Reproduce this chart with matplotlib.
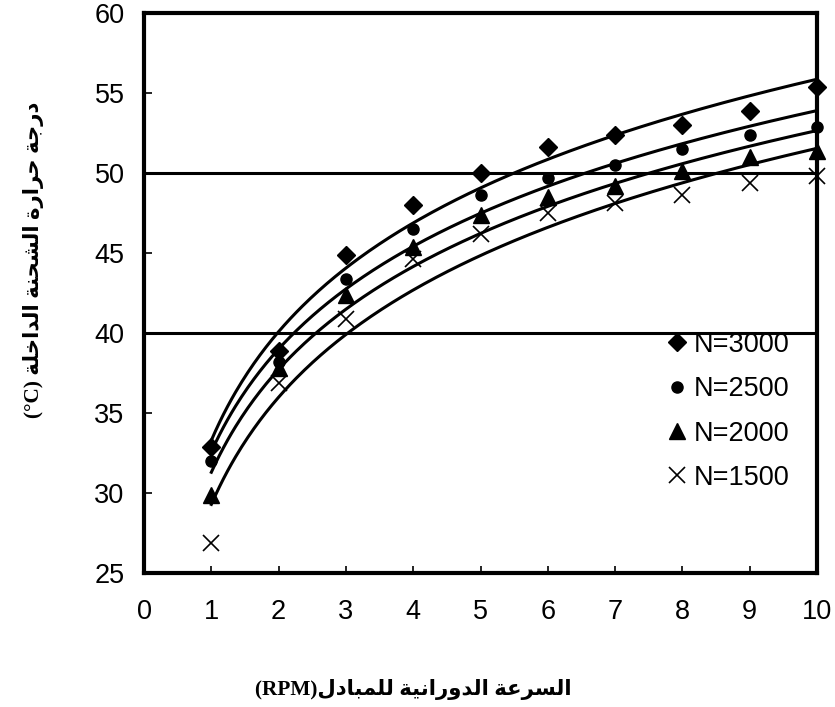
import numpy as np
import matplotlib
matplotlib.use("Agg")
import matplotlib.pyplot as plt

# ---------------- data ----------------
rpm = [1, 2, 3, 4, 5, 6, 7, 8, 9, 10]
n3000 = [32.9, 38.9, 44.9, 48.0, 50.0, 51.6, 52.4, 53.0, 53.9, 55.4]
n2500 = [32.0, 38.2, 43.4, 46.5, 48.6, 49.7, 50.5, 51.5, 52.4, 52.9]
n2000 = [29.9, 37.8, 42.4, 45.4, 47.4, 48.5, 49.2, 50.1, 51.0, 51.4]
n1500 = [26.9, 36.9, 40.9, 44.6, 46.2, 47.5, 48.1, 48.6, 49.4, 49.8]
labels = ["N=3000", "N=2500", "N=2000", "N=1500"]
xticks = list(range(0, 11))
yticks = list(range(25, 61, 5))
ref_lines = [40, 50]

ylabel_ar = "درجة حرارة الشحنة الداخلة"
xlabel_ar = "السرعة الدورانية للمبادل"

# ---------------- minimal Arabic shaping ----------------
# (isolated, final, initial, medial)
FORMS = {
    'ا': ('\uFE8D', '\uFE8E', None, None),
    'ب': ('\uFE8F', '\uFE90', '\uFE91', '\uFE92'),
    'ة': ('\uFE93', '\uFE94', None, None),
    'ج': ('\uFE9D', '\uFE9E', '\uFE9F', '\uFEA0'),
    'ح': ('\uFEA1', '\uFEA2', '\uFEA3', '\uFEA4'),
    'خ': ('\uFEA5', '\uFEA6', '\uFEA7', '\uFEA8'),
    'د': ('\uFEA9', '\uFEAA', None, None),
    'ر': ('\uFEAD', '\uFEAE', None, None),
    'س': ('\uFEB1', '\uFEB2', '\uFEB3', '\uFEB4'),
    'ش': ('\uFEB5', '\uFEB6', '\uFEB7', '\uFEB8'),
    'ع': ('\uFEC9', '\uFECA', '\uFECB', '\uFECC'),
    'ل': ('\uFEDD', '\uFEDE', '\uFEDF', '\uFEE0'),
    'م': ('\uFEE1', '\uFEE2', '\uFEE3', '\uFEE4'),
    'ن': ('\uFEE5', '\uFEE6', '\uFEE7', '\uFEE8'),
    'و': ('\uFEED', '\uFEEE', None, None),
    'ي': ('\uFEF1', '\uFEF2', '\uFEF3', '\uFEF4'),
}


def shape(text):
    out = []
    n = len(text)
    for i, ch in enumerate(text):
        if ch not in FORMS:
            out.append(ch)
            continue
        prev = text[i - 1] if i > 0 else None
        nxt = text[i + 1] if i < n - 1 else None
        pj = prev in FORMS and FORMS[prev][2] is not None
        nj = FORMS[ch][2] is not None and nxt in FORMS
        iso, fin, ini, med = FORMS[ch]
        if pj and nj:
            out.append(med)
        elif pj:
            out.append(fin)
        elif nj:
            out.append(ini)
        else:
            out.append(iso)
    return "".join(out)[::-1]


# ---------------- figure ----------------
plt.rcParams['font.family'] = ['Liberation Sans', 'DejaVu Sans']
fig = plt.figure(figsize=(8.35, 7.07), dpi=100)
ax = fig.add_axes([0.1725, 0.1895, 0.806, 0.792])

x = np.array(rpm, dtype=float)
xs = np.linspace(1, 10, 300)
series = [n3000, n2500, n2000, n1500]
markers = [dict(marker='D', ms=9, mfc='black', mec='black'),
           dict(marker='o', ms=8, mfc='black', mec='black'),
           dict(marker='^', ms=11, mfc='black', mec='black'),
           dict(marker='x', ms=12, mec='black', mew=1.2)]

for yv in ref_lines:
    ax.axhline(yv, color='black', lw=2.2, zorder=1)

for ys, mk, lab in zip(series, markers, labels):
    ys = np.array(ys)
    a, b = np.polyfit(np.log(x), ys, 1)
    ax.plot(xs, a * np.log(xs) + b, color='black', lw=2.2, zorder=2)
    ax.plot(x, ys, ls='none', label=lab, zorder=3, clip_on=False, **mk)

ax.set_xlim(0, 10)
ax.set_ylim(25, 60)
ax.set_xticks(xticks)
ax.set_yticks(yticks)
ax.tick_params(axis='both', direction='in', labelsize=19.5, width=1.2)
ax.tick_params(axis='y', length=6, pad=14)
ax.tick_params(axis='x', length=5, pad=19)
for s in ax.spines.values():
    s.set_linewidth(3)

leg = ax.legend(loc='upper left', bbox_to_anchor=(0.776, 0.431), frameon=False,
                fontsize=19.5, handlelength=0.8, handletextpad=0.2,
                labelspacing=0.68, borderaxespad=0, borderpad=0)

arfam = ['Liberation Serif', 'DejaVu Sans Condensed', 'DejaVu Sans']
fig.text(0.04, 0.632, "(°C) " + shape(ylabel_ar), rotation=90,
         ha='center', va='center', fontsize=15.3, fontweight='bold',
         family=arfam)
fig.text(0.495, 0.025, "(RPM)" + shape(xlabel_ar), ha='center', va='center',
         fontsize=15.3, fontweight='bold', family=arfam)

fig.savefig("out.png", dpi=100)
